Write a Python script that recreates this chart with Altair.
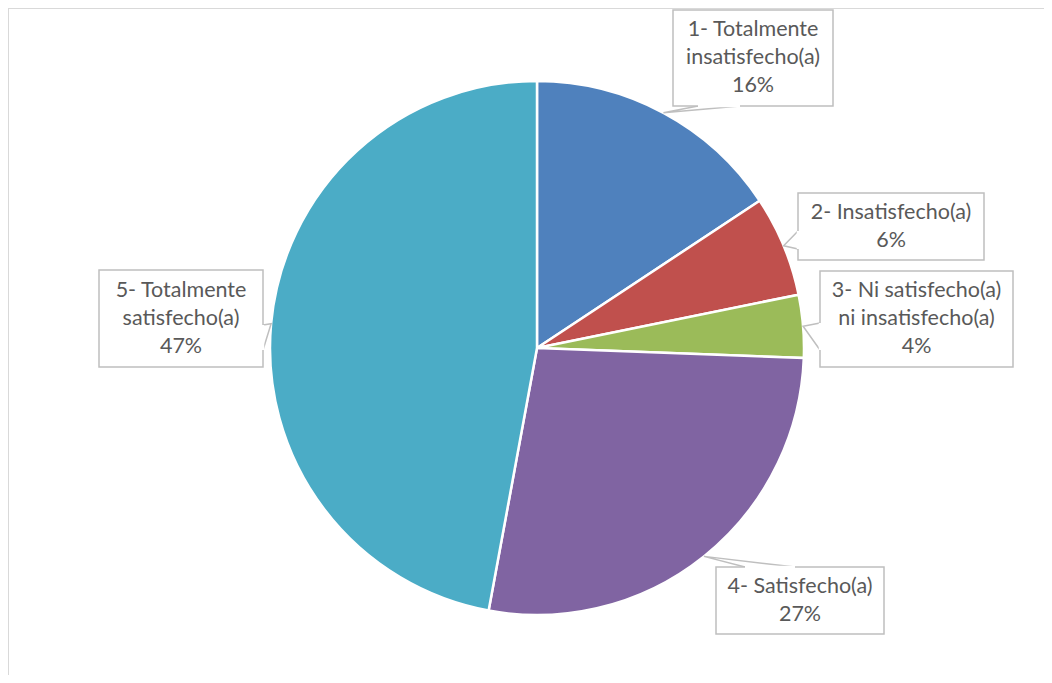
import math
import altair as alt
import pandas as pd

# ---------------- data ----------------
categories = [
    "1- Totalmente insatisfecho(a)",
    "2- Insatisfecho(a)",
    "3- Ni satisfecho(a) ni insatisfecho(a)",
    "4- Satisfecho(a)",
    "5- Totalmente satisfecho(a)",
]
values = [15.7, 6.1, 3.8, 27.3, 47.1]
label_lines = [
    ["1- Totalmente", "insatisfecho(a)"],
    ["2- Insatisfecho(a)"],
    ["3- Ni satisfecho(a)", "ni insatisfecho(a)"],
    ["4- Satisfecho(a)"],
    ["5- Totalmente", "satisfecho(a)"],
]
colors = ["#4F81BD", "#C0504D", "#9BBB59", "#8064A2", "#4BACC6"]

# ---------------- layout (chart pixel coords) ----------------
W, H = 1036, 667
CX, CY, R = 529, 340, 267
LH = 28
# callout boxes: x1, x2, y1, y2
boxes = [
    (665, 825, 2, 98),
    (790, 976, 185, 252),
    (812, 1005, 263, 359),
    (708, 876, 559, 626),
    (91, 255, 262, 359),
]
# wedge base points on the box edge
bases = [
    ((690, 98), (732, 98)),
    ((790, 223), (790, 241)),
    ((812, 315), (812, 342)),
    ((737, 559), (787, 559)),
    ((255, 317), (255, 342)),
]
TEXT = "#595959"
BORDER = "#BFBFBF"

total = sum(values)
pie_df = pd.DataFrame({"cat": categories, "value": values, "idx": list(range(5))})

# tips at mid-angle of each slice on the circle
tips = []
cum = 0.0
for v in values:
    a = 2 * math.pi * (cum + v / 2) / total
    tips.append((CX + R * math.sin(a), CY - R * math.cos(a)))
    cum += v

lbl_rows, box_rows, wedge_rows, erase_rows = [], [], [], []
for i, (lines, v) in enumerate(zip(label_lines, values)):
    x1, x2, y1, y2 = boxes[i]
    all_lines = lines + [f"{round(v / total * 100)}%"]
    n = len(all_lines)
    lbl_rows.append({
        "t": "\n".join(all_lines),
        "x": (x1 + x2) / 2,
        "y": (y1 + y2) / 2 - (n - 1) * LH / 2,
    })
    box_rows.append({"x1": x1, "x2": x2, "y1": y1, "y2": y2})
    b1, b2 = bases[i]
    for k, p in enumerate([b1, tips[i], b2]):
        wedge_rows.append({"id": i, "o": k, "x": p[0], "y": p[1]})
    erase_rows.append({"x1": b1[0], "y1": b1[1], "x2": b2[0], "y2": b2[1]})

lbl_df = pd.DataFrame(lbl_rows)
box_df = pd.DataFrame(box_rows)
wedge_df = pd.DataFrame(wedge_rows)
erase_df = pd.DataFrame(erase_rows)

pie = alt.Chart(pie_df).mark_arc(outerRadius=R, stroke="white", strokeWidth=2.5).encode(
    theta=alt.Theta("value:Q", stack=True),
    color=alt.Color("cat:N", scale=alt.Scale(domain=categories, range=colors), legend=None),
    order=alt.Order("idx:Q"),
    x=alt.value(CX),
    y=alt.value(CY),
)

wedges = alt.Chart(wedge_df).mark_line(color=BORDER, strokeWidth=1.5).encode(
    x=alt.X("x:Q", scale=None, axis=None),
    y=alt.Y("y:Q", scale=None, axis=None),
    detail="id:N",
    order="o:Q",
)

rects = alt.Chart(box_df).mark_rect(fill="white", stroke=BORDER, strokeWidth=1.5).encode(
    x=alt.X("x1:Q", scale=None, axis=None),
    x2="x2:Q",
    y=alt.Y("y1:Q", scale=None, axis=None),
    y2="y2:Q",
)

erase = alt.Chart(erase_df).mark_rule(color="white", strokeWidth=2.5).encode(
    x=alt.X("x1:Q", scale=None, axis=None),
    x2="x2:Q",
    y=alt.Y("y1:Q", scale=None, axis=None),
    y2="y2:Q",
)

texts = alt.Chart(lbl_df).mark_text(
    font="Lato", fontSize=21.5, color=TEXT, lineBreak="\n", lineHeight=LH,
    align="center", baseline="middle",
).encode(
    x=alt.X("x:Q", scale=None, axis=None),
    y=alt.Y("y:Q", scale=None, axis=None),
    text="t:N",
)

frame_top = alt.Chart(pie_df).mark_rule(color="#D9D9D9", strokeWidth=1.5).encode(
    x=alt.value(0), x2=alt.value(W), y=alt.value(0)
)
frame_left = alt.Chart(pie_df).mark_rule(color="#D9D9D9", strokeWidth=1.5).encode(
    x=alt.value(0), y=alt.value(0), y2=alt.value(H)
)

chart = alt.layer(frame_top, frame_left, pie, wedges, rects, erase, texts).properties(
    width=W, height=H, padding=0, autosize="none"
).configure_view(stroke=None)

chart.save("out.html", embed_options={"renderer": "svg", "actions": False})
